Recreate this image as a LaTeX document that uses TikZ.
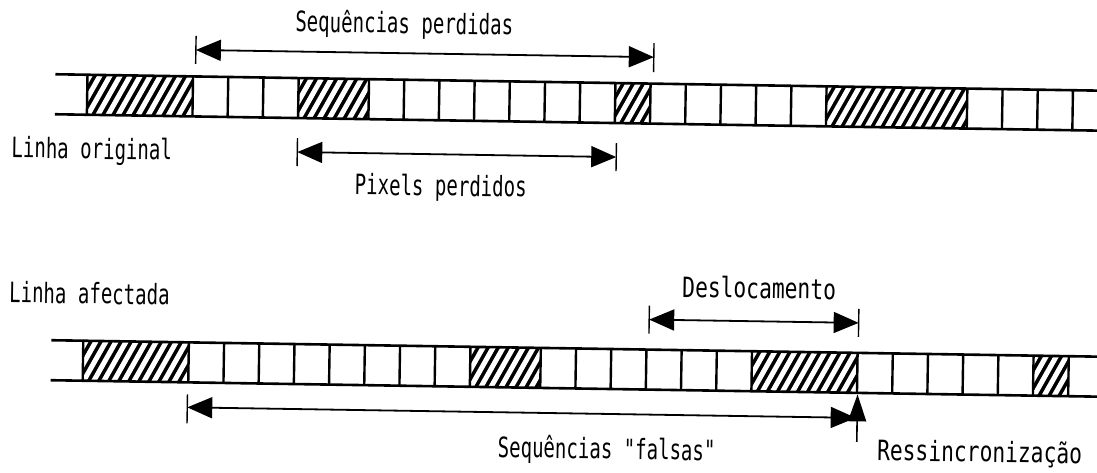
\documentclass[tikz,border=0pt]{standalone}
\usepackage{fontspec}
\newfontfamily\lblfont[FakeStretch=0.68]{DejaVu Sans Mono}
\newfontfamily\lblwide[FakeStretch=0.76]{DejaVu Sans Mono}
\usetikzlibrary{arrows.meta}
\tikzset{
  rowline/.style={line width=2.6pt},
  cellsep/.style={line width=2.4pt},
  dimarrow/.style={line width=1.8pt,
    {Triangle[length=25pt,width=21pt]}-{Triangle[length=25pt,width=21pt]}},
  tickline/.style={line width=1.4pt},
  lbl/.style={font=\lblfont\fontsize{28}{30}\selectfont, inner sep=0pt},
  lblw/.style={font=\lblwide\fontsize{28}{30}\selectfont, inner sep=0pt},
}
\newcommand\hatchblk[4]{%
  \begin{scope}
    \clip (#1,#3) rectangle (#2,#4);
    \fill[black] (#1,#3) rectangle (#2,#4);
    \foreach \s in {-40,-30,...,150}
      \draw[white, line width=5pt] ({#1+\s},#4+2) -- ++(24,-44);
  \end{scope}}
\begin{document}
\begin{tikzpicture}[x=1pt,y=-1pt]
\useasboundingbox (0,0) rectangle (1097,472);
\fill[white] (0,0) rectangle (1097,472);
\begin{scope}[rotate around={-0.9:(548,236)}, transform shape]
  % ---------- top row (original line) ----------
  \hatchblk{85}{190.6}{82}{122}
  \hatchblk{296.2}{366.6}{82}{122}
  \hatchblk{613}{648.2}{82}{122}
  \hatchblk{824.2}{965}{82}{122}
  \draw[rowline] (53,82) -- (1120,82);
  \draw[rowline] (53,122) -- (1120,122);
  \foreach \i in {0,3,4,5,6,8,9,10,11,12,13,14,15,16,17,18,19,20,21,25,26,27,28}
    \draw[cellsep] ({85+35.2*\i},82) -- ({85+35.2*\i},122);
  % ---------- bottom row (affected line) ----------
  \hatchblk{85}{190.6}{348}{388}
  \hatchblk{472.2}{542.6}{348}{388}
  \hatchblk{753.8}{859.4}{348}{388}
  \hatchblk{1035.4}{1070.6}{348}{388}
  \draw[rowline] (53,348) -- (1120,348);
  \draw[rowline] (53,388) -- (1120,388);
  \foreach \i in {0,3,4,5,6,7,8,9,10,11,13,14,15,16,17,18,19,22,23,24,25,26,27,28}
    \draw[cellsep] ({85+35.2*\i},348) -- ({85+35.2*\i},388);
  % ---------- labels ----------
  \node[lbl, anchor=base] (tsp) at (401,35.5) {Sequências perdidas};
  \node[lbl, anchor=base west] (tlo) at (10,166) {Linha original};
  \node[lbl, anchor=base] (tpp) at (440,197.5) {Pixels perdidos};
  \node[lbl, anchor=base west] (tla) at (10,311) {Linha afectada};
  \node[lblw, anchor=base] (tds) at (760,295) {Deslocamento};
  \node[lbl, anchor=base] (tsf) at (610,458) {Sequências "falsas"};
  \node[lblw, anchor=base] (trs) at (983,455) {Ressincronização};
  % ---------- dimension arrows ----------
  \coordinate (spL) at (193,55.5);
  \coordinate (spR) at (651,55.5);
  \draw[dimarrow] (spL) -- (spR);
  \draw[tickline] ([yshift=14pt]spL) -- ([yshift=-14pt]spL);
  \draw[tickline] ([yshift=14pt]spR) -- ([yshift=-15pt]spR);
  \coordinate (ppL) at (296,156);
  \coordinate (ppR) at (615,156);
  \draw[dimarrow] (ppL) -- (ppR);
  \draw[tickline] ([yshift=14pt]ppL) -- ([yshift=-14pt]ppL);
  \draw[tickline] ([yshift=14pt]ppR) -- ([yshift=-14pt]ppR);
  \coordinate (dsL) at (650.5,318);
  \coordinate (dsR) at (860,318);
  \draw[dimarrow] (dsL) -- (dsR);
  \draw[tickline] ([yshift=14pt]dsL) -- ([yshift=-14pt]dsL);
  \draw[tickline] ([yshift=14pt]dsR) -- ([yshift=-14pt]dsR);
  \coordinate (sfL) at (190,413);
  \coordinate (sfR) at (858.5,413);
  \draw[dimarrow] (sfL) -- (sfR);
  \draw[tickline] ([yshift=13pt]sfL) -- ([yshift=-16pt]sfL);
  \coordinate (rsB) at (860,437);
  \coordinate (rsT) at (860,389.5);
  \draw[line width=1.6pt, -{Triangle[length=27pt,width=18pt]}] (rsB) -- (rsT);
\end{scope}
\end{tikzpicture}
\end{document}
